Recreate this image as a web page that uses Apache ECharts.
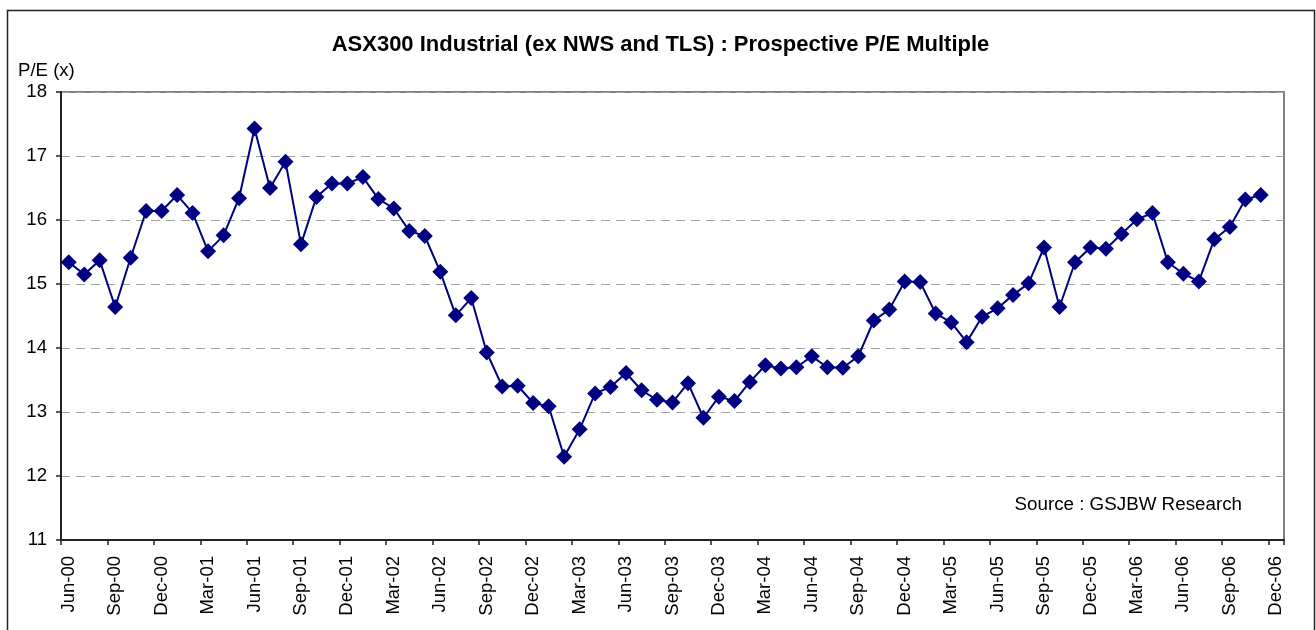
<!DOCTYPE html>
<html>
<head>
<meta charset="utf-8">
<script src="https://cdn.jsdelivr.net/npm/echarts@6/dist/echarts.min.js"></script>
<style>
html,body{margin:0;padding:0;background:#fff;}
#chart{width:1316px;height:630px;}
</style>
</head>
<body>
<div id="chart"></div>
<script>
var titleText = 'ASX300 Industrial (ex NWS and TLS) : Prospective P/E Multiple';
var yAxisTitle = 'P/E (x)';
var sourceText = 'Source : GSJBW Research';

var months = [
  'Jun-00','Jul-00','Aug-00','Sep-00','Oct-00','Nov-00','Dec-00',
  'Jan-01','Feb-01','Mar-01','Apr-01','May-01','Jun-01','Jul-01','Aug-01','Sep-01','Oct-01','Nov-01','Dec-01',
  'Jan-02','Feb-02','Mar-02','Apr-02','May-02','Jun-02','Jul-02','Aug-02','Sep-02','Oct-02','Nov-02','Dec-02',
  'Jan-03','Feb-03','Mar-03','Apr-03','May-03','Jun-03','Jul-03','Aug-03','Sep-03','Oct-03','Nov-03','Dec-03',
  'Jan-04','Feb-04','Mar-04','Apr-04','May-04','Jun-04','Jul-04','Aug-04','Sep-04','Oct-04','Nov-04','Dec-04',
  'Jan-05','Feb-05','Mar-05','Apr-05','May-05','Jun-05','Jul-05','Aug-05','Sep-05','Oct-05','Nov-05','Dec-05',
  'Jan-06','Feb-06','Mar-06','Apr-06','May-06','Jun-06','Jul-06','Aug-06','Sep-06','Oct-06','Nov-06','Dec-06'
];

var peValues = [
  15.34, 15.15, 15.37, 14.64, 15.41, 16.14, 16.14,
  16.39, 16.11, 15.51, 15.76, 16.34, 17.43, 16.50, 16.91, 15.62, 16.36, 16.57, 16.57,
  16.67, 16.33, 16.18, 15.83, 15.75, 15.19, 14.51, 14.78, 13.93, 13.40, 13.41, 13.14,
  13.09, 12.30, 12.73, 13.29, 13.39, 13.61, 13.34, 13.19, 13.15, 13.45, 12.91, 13.24,
  13.17, 13.47, 13.73, 13.68, 13.70, 13.87, 13.70, 13.69, 13.87, 14.43, 14.60, 15.04,
  15.03, 14.54, 14.40, 14.09, 14.49, 14.62, 14.83, 15.01, 15.57, 14.64, 15.34, 15.57,
  15.55, 15.78, 16.01, 16.11, 15.34, 15.16, 15.04, 15.70, 15.89, 16.32, 16.39, null
];

var FONT = '"Liberation Sans", Arial, sans-serif';

var chart = echarts.init(document.getElementById('chart'), null, {renderer: 'canvas'});
chart.setOption({
  backgroundColor: '#ffffff',
  animation: false,
  graphic: [
    {type: 'rect', z: 100, silent: true,
     shape: {x: 7.5, y: 10.5, width: 1307, height: 700},
     style: {fill: 'none', stroke: '#222222', lineWidth: 1.5}},
    {type: 'text', z: 100, silent: true,
     style: {text: titleText, x: 660.5, y: 44.5, textAlign: 'center', textVerticalAlign: 'middle',
             font: 'bold 22px ' + FONT, fill: '#000'}},
    {type: 'text', z: 100, silent: true,
     style: {text: yAxisTitle, x: 18, y: 71, textAlign: 'left', textVerticalAlign: 'middle',
             font: '18.6px ' + FONT, fill: '#000'}},
    {type: 'text', z: 100, silent: true,
     style: {text: sourceText, x: 1242, y: 505, textAlign: 'right', textVerticalAlign: 'middle',
             font: '18.8px ' + FONT, fill: '#000'}}
  ],
  grid: {left: 61, right: 32, top: 92, bottom: 90, show: true,
         borderColor: '#808080', borderWidth: 2, backgroundColor: 'transparent'},
  xAxis: {
    type: 'category',
    data: months,
    boundaryGap: true,
    axisLine: {lineStyle: {color: '#222', width: 2}},
    axisTick: {show: true, interval: 2, length: 5, inside: false, lineStyle: {color: '#222', width: 1.5}},
    axisLabel: {interval: 2, rotate: 90, margin: 16, color: '#000', fontSize: 18.5, fontFamily: FONT},
    splitLine: {show: false}
  },
  yAxis: {
    type: 'value',
    min: 11, max: 18, interval: 1,
    axisLine: {show: true, lineStyle: {color: '#222', width: 2}},
    axisTick: {show: true, length: 5, inside: false, lineStyle: {color: '#222', width: 1.5}},
    axisLabel: {margin: 14, color: '#000', fontSize: 18.6, fontFamily: FONT},
    splitLine: {show: true, lineStyle: {color: '#a0a0a0', width: 1, type: [9, 6]}}
  },
  series: [{
    type: 'line',
    data: peValues,
    symbol: 'diamond',
    symbolSize: 16,
    showSymbol: true,
    showAllSymbol: true,
    connectNulls: false,
    lineStyle: {color: '#000080', width: 2},
    itemStyle: {color: '#000080', borderWidth: 0},
    emphasis: {disabled: true}
  }]
});
</script>
</body>
</html>
